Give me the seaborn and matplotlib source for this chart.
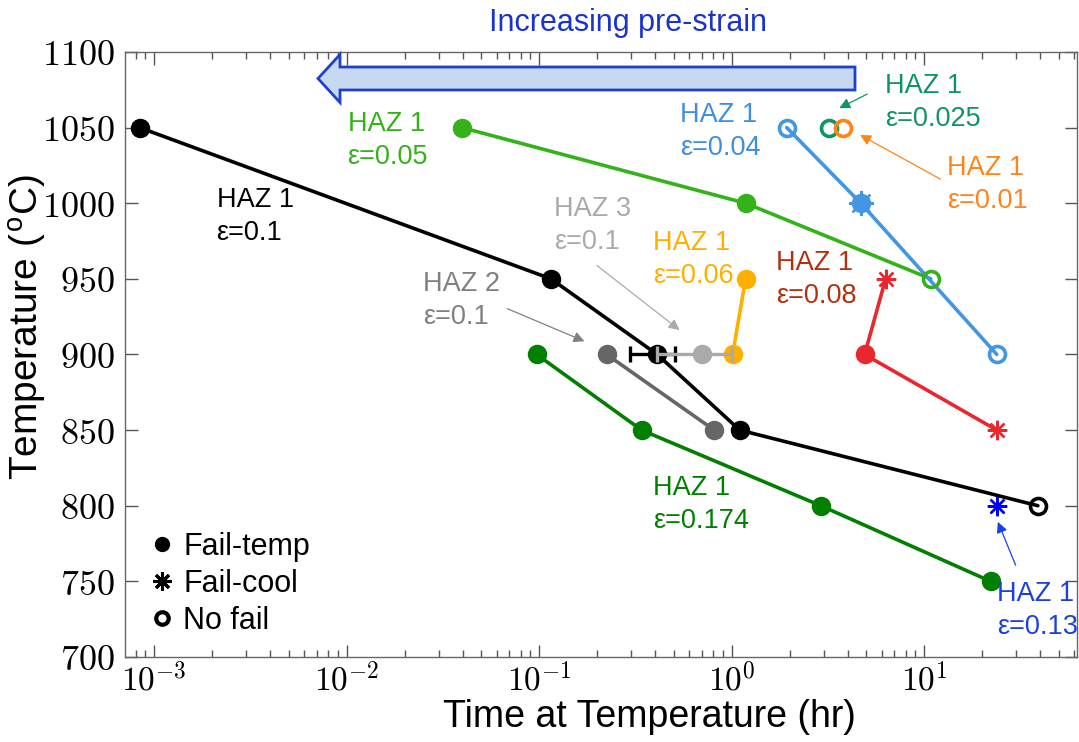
import numpy as np
import pandas as pd
import seaborn as sns
import matplotlib.pyplot as plt
from matplotlib.patches import FancyArrow
from matplotlib.lines import Line2D
from matplotlib.ticker import FuncFormatter, LogLocator, FixedLocator

sns.set_theme(style="ticks")
plt.rcParams['font.family'] = ['Liberation Sans', 'DejaVu Sans']
plt.rcParams['mathtext.fontset'] = 'cm'
plt.rcParams['text.color'] = 'black'
plt.rcParams['axes.labelcolor'] = 'black'

# data: time at temperature (hr), temperature (C), outcome per point
# f = fail-temp, c = fail-cool, o = no fail, fc = both symbols
haz1_e010_t = [8.4e-4, 0.115, 0.41, 1.1, 38.9]
haz1_e010_T = [1050, 950, 900, 850, 800]
haz1_e010_k = ['f', 'f', 'f', 'f', 'o']

haz1_e005_t = [0.0396, 1.18, 10.8]
haz1_e005_T = [1050, 1000, 950]
haz1_e005_k = ['f', 'f', 'o']

haz1_e004_t = [1.93, 4.68, 23.8]
haz1_e004_T = [1050, 1000, 900]
haz1_e004_k = ['o', 'fc', 'o']

haz1_e0025_t = [3.19]
haz1_e0025_T = [1050]
haz1_e0025_k = ['o']

haz1_e001_t = [3.77]
haz1_e001_T = [1050]
haz1_e001_k = ['o']

haz1_e006_t = [1.18, 1.01]
haz1_e006_T = [950, 900]
haz1_e006_k = ['f', 'f']

haz1_e008_t = [6.3, 4.9, 23.8]
haz1_e008_T = [950, 900, 850]
haz1_e008_k = ['c', 'f', 'c']

haz1_e0174_t = [0.097, 0.34, 2.9, 22.1]
haz1_e0174_T = [900, 850, 800, 750]
haz1_e0174_k = ['f', 'f', 'f', 'f']

haz2_e010_t = [0.224, 0.81]
haz2_e010_T = [900, 850]
haz2_e010_k = ['f', 'f']

haz1_e013_t = [23.8]
haz1_e013_T = [800]
haz1_e013_k = ['c']

# scatter (min/max times) at 900 C
haz1_e010_err = [0.295, 0.506]
haz3_e010_t = [0.70]
haz3_e010_T = [900]
haz3_e010_err = [0.41, 1.0]

series = [
    (haz1_e010_t, haz1_e010_T, haz1_e010_k, 'black', 'black', 'HAZ 1\nε=0.1', (2.11e-3, 1011), None),
    (haz1_e005_t, haz1_e005_T, haz1_e005_k, '#33b21a', '#33b21a', 'HAZ 1\nε=0.05', (0.0101, 1061), None),
    (haz1_e004_t, haz1_e004_T, haz1_e004_k, '#4296e4', '#3d8fe0', 'HAZ 1\nε=0.04', (0.537, 1067), None),
    (haz1_e0025_t, haz1_e0025_T, haz1_e0025_k, '#0f9463', '#0f9463', 'HAZ 1\nε=0.025', (6.23, 1086),
     ((5.21, 1073), (3.51, 1062))),
    (haz1_e001_t, haz1_e001_T, haz1_e001_k, '#ff8419', '#ff8419', 'HAZ 1\nε=0.01', (13.2, 1032),
     ((12.5, 1015), (4.51, 1046))),
    (haz1_e006_t, haz1_e006_T, haz1_e006_k, '#ffaf00', '#ffaf00', 'HAZ 1\nε=0.06', (0.389, 982), None),
    (haz1_e008_t, haz1_e008_T, haz1_e008_k, '#e8282e', '#b3300f', 'HAZ 1\nε=0.08', (1.69, 969), None),
    (haz1_e0174_t, haz1_e0174_T, haz1_e0174_k, '#007f00', '#007f00', 'HAZ 1\nε=0.174', (0.389, 820), None),
    (haz2_e010_t, haz2_e010_T, haz2_e010_k, '#666666', '#808080', 'HAZ 2\nε=0.1', (0.0248, 955),
     ((0.0662, 931), (0.177, 908))),
    (haz1_e013_t, haz1_e013_T, haz1_e013_k, '#0000ff', '#1a40e0', 'HAZ 1\nε=0.13', (23.8, 750),
     ((30.2, 759), (23.8, 791))),
]

asterisk = (8, 2, 0)
label_kw = dict(fontsize=19.5, va='top', ha='left', linespacing=1.35)

fig = plt.figure(figsize=(10.79, 7.42), dpi=100)
ax = fig.add_axes([0.1158, 0.1146, 0.8822, 0.8154])

for t, T, kinds, col, tcol, label, tpos, arr in series:
    if len(t) > 1:
        df = pd.DataFrame({'t': t, 'T': T})
        sns.lineplot(data=df, x='t', y='T', color=col, lw=2.6, sort=False,
                     estimator=None, ax=ax, legend=False, zorder=2)
    for ti, Ti, k in zip(t, T, kinds):
        if 'f' in k:
            ax.plot(ti, Ti, 'o', ms=13, mfc=col, mec=col, zorder=3)
        if 'c' in k:
            ax.plot(ti, Ti, marker=asterisk, ms=18 if k == 'fc' else 14, mec=col, mew=1.7,
                    ls='none', zorder=4)
        if k == 'o':
            ax.plot(ti, Ti, 'o', ms=11.5, mfc='none', mec=col, mew=2.6, zorder=3)
    ax.text(tpos[0], tpos[1], label, color=tcol, **label_kw)
    if arr is not None:
        ax.annotate('', xy=arr[1], xytext=arr[0],
                    arrowprops=dict(arrowstyle='-|>', color=tcol, lw=0.9, mutation_scale=16))

# HAZ 1 eps=0.1 scatter bar, then HAZ 3 point with its bar on top
ax.errorbar(haz1_e010_t[2], haz1_e010_T[2],
            xerr=[[haz1_e010_t[2] - haz1_e010_err[0]], [haz1_e010_err[1] - haz1_e010_t[2]]],
            color='black', lw=2.4, capsize=6, capthick=2.4, zorder=1.5)
ax.errorbar(haz3_e010_t, haz3_e010_T,
            xerr=[[haz3_e010_t[0] - haz3_e010_err[0]], [haz3_e010_err[1] - haz3_e010_t[0]]],
            color='#aaaaaa', lw=2.4, capsize=6, capthick=2.4, fmt='o', ms=13, zorder=5)
ax.text(0.119, 1005, 'HAZ 3\nε=0.1', color='#aaaaaa', **label_kw)
ax.annotate('', xy=(0.55, 915), xytext=(0.194, 960),
            arrowprops=dict(arrowstyle='-|>', color='#aaaaaa', lw=0.9, mutation_scale=16))

# axes
ax.set_xscale('log')
ax.set_xlim(7.05e-4, 62)
ax.set_ylim(700, 1100)
ax.yaxis.set_major_locator(FixedLocator(np.arange(700, 1101, 50)))
ax.yaxis.set_major_formatter(FuncFormatter(lambda v, p: f'${int(v)}$'))
ax.xaxis.set_major_locator(LogLocator(base=10, numticks=10))
ax.xaxis.set_minor_locator(LogLocator(base=10, subs=np.arange(2, 10), numticks=20))
ax.xaxis.set_major_formatter(FuncFormatter(lambda v, p: f'$10^{{{int(round(np.log10(v)))}}}$'))
ax.tick_params(which='both', direction='in', top=True, right=True, colors='#555555',
               labelcolor='black', labelsize=26, width=1)
ax.tick_params(which='major', length=9, pad=7)
ax.tick_params(axis='x', which='major', pad=4, labelsize=24)
ax.tick_params(which='minor', length=5)
for s in ax.spines.values():
    s.set_color('#666666')
    s.set_linewidth(1)
ax.set_xlabel('Time at Temperature (hr)', fontsize=27, color='black')
ax.xaxis.set_label_coords(0.551, -0.070)
ax.set_ylabel('Temperature ($^{\\mathregular{o}}$C)', fontsize=28, color='black')
ax.yaxis.set_label_coords(-0.08, 0.545)
ax.grid(False)

# legend for outcomes
handles = [
    Line2D([], [], ls='none', marker='o', ms=10, color='black'),
    Line2D([], [], ls='none', marker=asterisk, ms=13, mew=2.2, color='black'),
    Line2D([], [], ls='none', marker='o', ms=9, mfc='none', mec='black', mew=3),
]
leg = ax.legend(handles, ['Fail-temp', 'Fail-cool', 'No fail'], loc='lower left',
                bbox_to_anchor=(0.0, -0.005), frameon=False, fontsize=22, handlelength=0.8,
                handletextpad=0.3, labelspacing=0.22, borderaxespad=0.4)
for txt in leg.get_texts():
    txt.set_color('black')

# pre-strain arrow above the data
fig.add_artist(FancyArrow(855 / 1079, 1 - 78.5 / 742, (318 - 855) / 1079, 0,
                          width=23 / 742, head_width=48 / 742, head_length=22 / 1079,
                          length_includes_head=True, transform=fig.transFigure,
                          fc='#c6d9f0', ec='#1f3fd0', lw=2, clip_on=False))
fig.text(628 / 1079, 1 - 23 / 742, 'Increasing pre-strain', color='#1a33cc', fontsize=22,
         ha='center', va='center')

fig.savefig('out.png', dpi=100)
